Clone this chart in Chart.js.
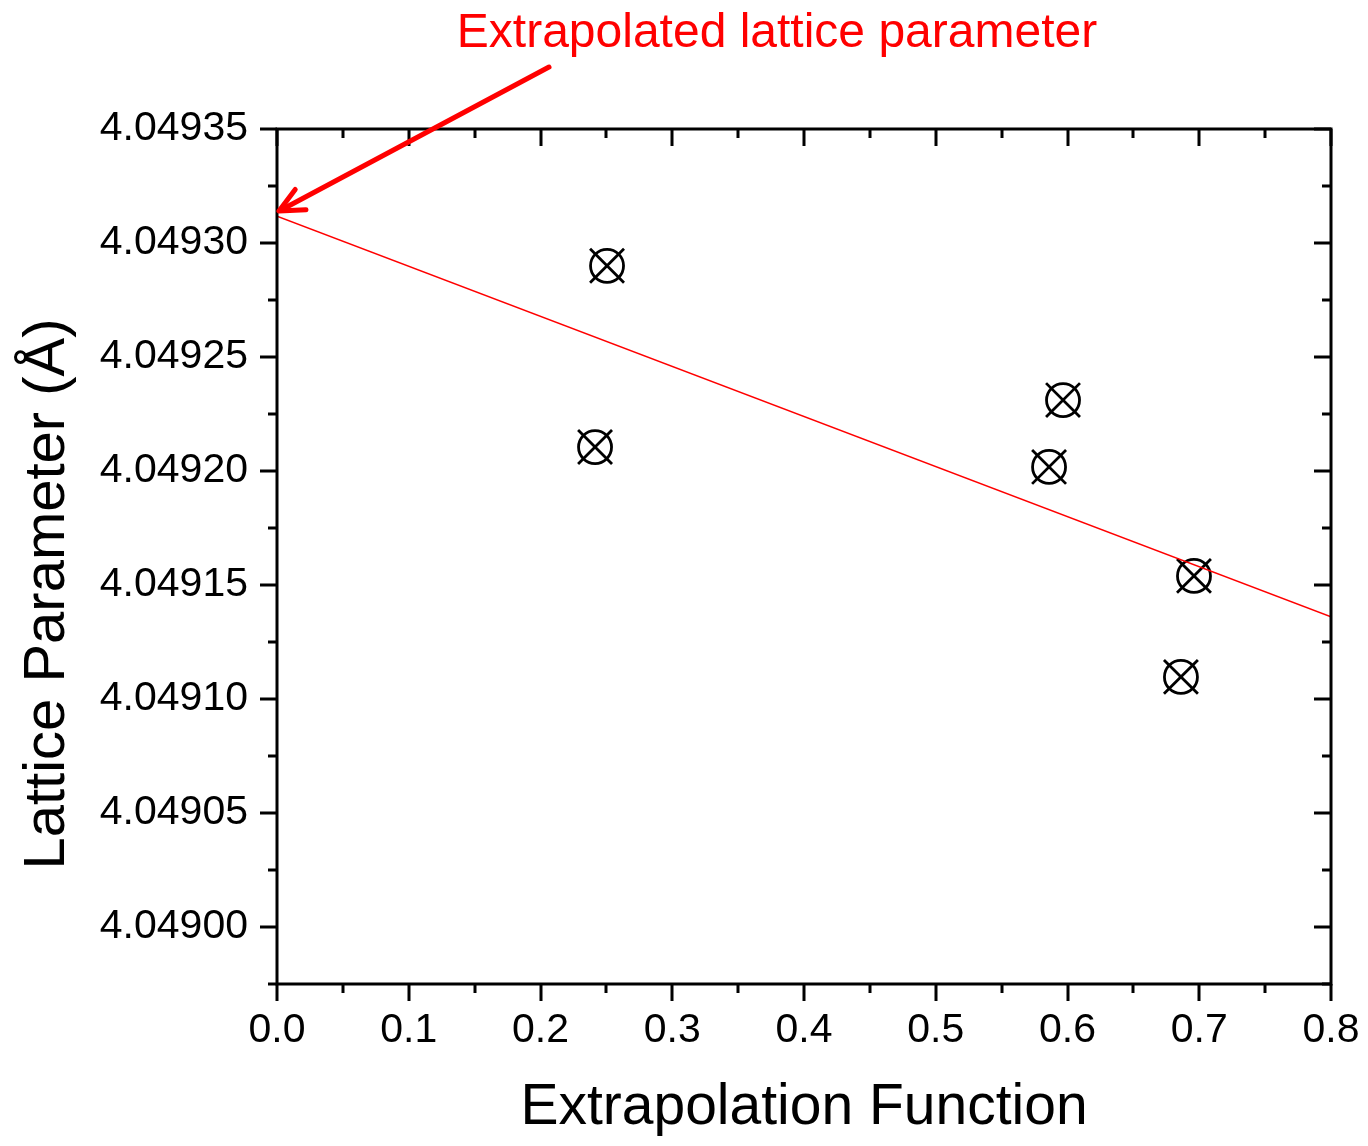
<!DOCTYPE html>
<html>
<head>
<meta charset="utf-8">
<script src="https://cdn.jsdelivr.net/npm/chart.js@4.4.1/dist/chart.umd.min.js"></script>
<style>
  html, body { margin: 0; padding: 0; background: #ffffff; }
  #wrap { width: 1368px; height: 1146px; }
</style>
</head>
<body>
<div id="wrap"><canvas id="c" width="1368" height="1146"></canvas></div>
<script>
// ---- data ----
const xValues = [0.2505, 0.2414, 0.5966, 0.5860, 0.6960, 0.6861];
const yValues = [4.049290, 4.0492105, 4.0492311, 4.0492018, 4.0491540, 4.0491097];
const fitX = [0.0, 0.8];
const fitY = [4.0493118, 4.0491360];
const xTickValues = [0, 0.1, 0.2, 0.3, 0.4, 0.5, 0.6, 0.7, 0.8];
const xTickLabels = ['0.0', '0.1', '0.2', '0.3', '0.4', '0.5', '0.6', '0.7', '0.8'];
const yTickValues = [4.04900, 4.04905, 4.04910, 4.04915, 4.04920, 4.04925, 4.04930, 4.04935];
const yTickLabels = ['4.04900', '4.04905', '4.04910', '4.04915', '4.04920', '4.04925', '4.04930', '4.04935'];
const xRange = [0, 0.8];
const yRange = [4.048975, 4.04935];
const annotationText = 'Extrapolated lattice parameter';
const arrowTip = [0, 4.049314];
const xTitle = 'Extrapolation Function';
const yTitle = 'Lattice Parameter (Å)';

const FONT = "'Liberation Sans', Arial, Helvetica, sans-serif";

const points = xValues.map((x, i) => ({ x: x, y: yValues[i] }));
const fitPoints = fitX.map((x, i) => ({ x: x, y: fitY[i] }));

const framePlugin = {
  id: 'frameTicks',
  afterDatasetsDraw(chart) {
    const ctx = chart.ctx;
    const a = chart.chartArea;
    const xs = chart.scales.x, ys = chart.scales.y;
    ctx.save();
    ctx.strokeStyle = '#000';
    ctx.lineWidth = 3;
    ctx.lineCap = 'butt';
    ctx.strokeRect(a.left, a.top, a.right - a.left, a.bottom - a.top);
    const major = 17, minor = 9;
    const xMinor = [];
    for (let i = 0; i < xTickValues.length - 1; i++) xMinor.push((xTickValues[i] + xTickValues[i + 1]) / 2);
    ctx.beginPath();
    xTickValues.forEach(v => {
      const p = Math.round(xs.getPixelForValue(v));
      ctx.moveTo(p, a.bottom); ctx.lineTo(p, a.bottom + major);
      ctx.moveTo(p, a.top); ctx.lineTo(p, a.top + major);
    });
    xMinor.forEach(v => {
      const p = Math.round(xs.getPixelForValue(v));
      ctx.moveTo(p, a.bottom); ctx.lineTo(p, a.bottom + minor);
      ctx.moveTo(p, a.top); ctx.lineTo(p, a.top + minor);
    });
    const step = yTickValues[1] - yTickValues[0];
    const yMinor = [yTickValues[0] - step / 2];
    for (let i = 0; i < yTickValues.length - 1; i++) yMinor.push((yTickValues[i] + yTickValues[i + 1]) / 2);
    yTickValues.forEach(v => {
      const p = Math.round(ys.getPixelForValue(v));
      ctx.moveTo(a.left, p); ctx.lineTo(a.left - major, p);
      ctx.moveTo(a.right, p); ctx.lineTo(a.right - major, p);
    });
    yMinor.forEach(v => {
      const p = Math.round(ys.getPixelForValue(v));
      ctx.moveTo(a.left, p); ctx.lineTo(a.left - minor, p);
      ctx.moveTo(a.right, p); ctx.lineTo(a.right - minor, p);
    });
    ctx.stroke();
    ctx.restore();
  },
  afterDraw(chart) {
    const ctx = chart.ctx;
    const xs = chart.scales.x, ys = chart.scales.y;
    ctx.save();
    ctx.fillStyle = '#ff0000';
    ctx.font = '48px ' + FONT;
    ctx.textAlign = 'center';
    ctx.textBaseline = 'alphabetic';
    ctx.fillText(annotationText, 777, 47);
    const tx = xs.getPixelForValue(arrowTip[0]) + 2;
    const ty = ys.getPixelForValue(arrowTip[1]);
    const sx = tx + 270, sy = ty - 144;
    ctx.strokeStyle = '#ff0000';
    ctx.lineWidth = 5;
    ctx.lineCap = 'round';
    ctx.lineJoin = 'round';
    ctx.beginPath();
    ctx.moveTo(sx, sy); ctx.lineTo(tx + 3, ty - 1.5);
    ctx.stroke();
    const ang = Math.atan2(sy - ty, sx - tx);
    const len = 27, spread = 25 * Math.PI / 180;
    ctx.beginPath();
    ctx.moveTo(tx + len * Math.cos(ang - spread), ty + len * Math.sin(ang - spread));
    ctx.lineTo(tx, ty);
    ctx.lineTo(tx + len * Math.cos(ang + spread), ty + len * Math.sin(ang + spread));
    ctx.stroke();
    ctx.fillStyle = '#000';
    ctx.font = '58px ' + FONT;
    ctx.translate(64, 594);
    ctx.rotate(-Math.PI / 2);
    ctx.textAlign = 'center';
    ctx.textBaseline = 'alphabetic';
    ctx.fillText(yTitle, 0, 0);
    ctx.restore();
  }
};

new Chart(document.getElementById('c'), {
  type: 'scatter',
  data: {
    datasets: [
      {
        type: 'line',
        label: 'Linear fit',
        data: fitPoints,
        borderColor: '#ff0000',
        borderWidth: 1.5,
        pointRadius: 0,
        fill: false,
        showLine: true
      },
      {
        label: 'Lattice parameter (cross)',
        data: points,
        pointStyle: 'crossRot',
        pointRadius: 24,
        borderColor: '#000',
        borderWidth: 2.8,
        backgroundColor: 'rgba(0,0,0,0)'
      },
      {
        label: 'Lattice parameter',
        data: points,
        pointStyle: 'circle',
        pointRadius: 16.5,
        borderColor: '#000',
        borderWidth: 2.8,
        backgroundColor: 'rgba(0,0,0,0)'
      }
    ]
  },
  options: {
    responsive: false,
    animation: false,
    events: [],
    layout: { padding: { top: 129, right: 37, left: 0, bottom: 0 } },
    plugins: { legend: { display: false }, tooltip: { enabled: false }, title: { display: false } },
    scales: {
      x: {
        type: 'linear',
        min: xRange[0], max: xRange[1],
        afterFit: s => { s.height = 162; s.paddingLeft = 0; s.paddingRight = 0; },
        afterBuildTicks: s => { s.ticks = xTickValues.map(v => ({ value: v })); },
        grid: { drawOnChartArea: false, drawTicks: true, tickLength: 10, color: 'rgba(0,0,0,0)' },
        border: { display: false },
        ticks: {
          padding: 12,
          maxRotation: 0,
          autoSkip: false,
          color: '#000',
          font: { family: FONT, size: 41 },
          callback: (v, i) => xTickLabels[i]
        },
        title: {
          display: true,
          text: xTitle,
          color: '#000',
          font: { family: FONT, size: 57, lineHeight: 1 },
          padding: { top: 0, bottom: 9 }
        }
      },
      y: {
        type: 'linear',
        min: yRange[0], max: yRange[1],
        afterFit: s => { s.width = 277; s.paddingTop = 0; s.paddingBottom = 0; },
        afterBuildTicks: s => { s.ticks = yTickValues.map(v => ({ value: v })); },
        grid: { drawOnChartArea: false, drawTicks: true, tickLength: 10, color: 'rgba(0,0,0,0)' },
        border: { display: false },
        ticks: {
          padding: 19,
          autoSkip: false,
          color: '#000',
          font: { family: FONT, size: 41 },
          callback: (v, i) => yTickLabels[i]
        }
      }
    }
  },
  plugins: [framePlugin]
});
</script>
</body>
</html>
